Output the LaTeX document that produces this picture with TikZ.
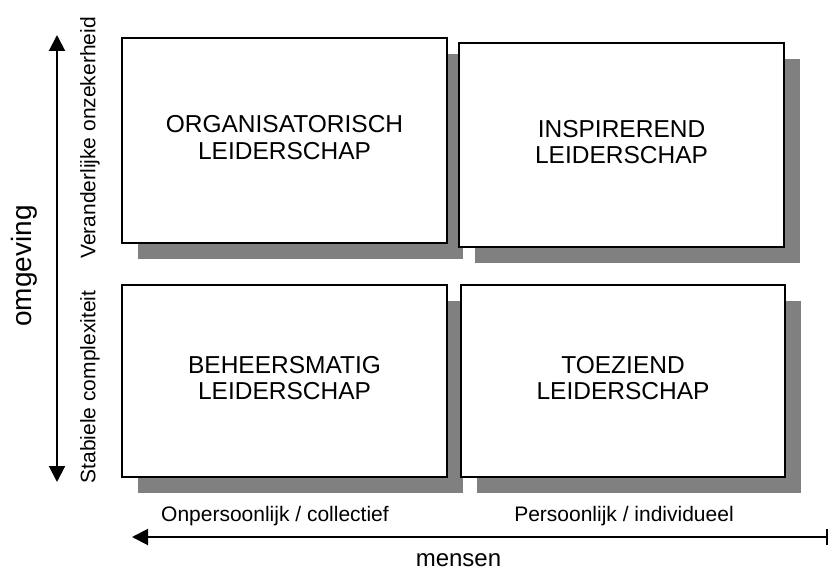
\documentclass[tikz,border=0pt]{standalone}
\usepackage{fontspec}
\setmainfont{Liberation Sans}
\usepackage{tikz}
\usetikzlibrary{arrows.meta,arrows}
\usetikzlibrary{positioning}
\usetikzlibrary{shadows}
\definecolor{shadegray}{RGB}{128,128,128}

\begin{document}
\begin{tikzpicture}[x=1pt,y=-1pt]
\tikzstyle{quad}=[rectangle,draw,line width=2pt,fill=white,outer sep=0,align=center,text depth=6pt,
  font=\fontsize{24.5}{26.7}\selectfont,
  drop shadow={shadow xshift=16pt,shadow yshift=-16pt,fill=shadegray,opacity=1}]
\tikzstyle{axis label}=[font=\fontsize{21}{25}\selectfont,inner sep=0]
\tikzstyle{side label}=[axis label,rotate=90]
\tikzset{
  axis/.style = {line width=2pt,draw=black},
  big label/.style = {inner sep=0},
  tri/.tip = {Triangle[length=16pt,width=16pt]}
}
\useasboundingbox (0,0) rectangle (829,572);

    \node[quad,minimum width=325pt,minimum height=205pt] (tl) at (284.5,140.5) {ORGANISATORISCH\\LEIDERSCHAP};
    \node[quad,minimum width=325pt,minimum height=204pt] (tr) [right=12pt of tl,yshift=-4.5pt] {INSPIREREND\\LEIDERSCHAP};
    \node[quad,minimum width=325pt,minimum height=192pt] (bl) [below=42pt of tl] {BEHEERSMATIG\\LEIDERSCHAP};
    \node[quad,minimum width=324pt,minimum height=192pt] (br) [right=14pt of bl] {TOEZIEND\\LEIDERSCHAP};

    %%%%%%%%%%%%%%%%%%%%%%%%%%
    \node[side label] (vo) at (90,138) {Veranderlijke onzekerheid};
    \node[side label] (sc) at (90,387) {Stabiele complexiteit};
    \node[big label,rotate=90,font=\fontsize{28}{32}\selectfont] (om) at (24,266) {omgeving};
    \node[axis label,anchor=base] (oc) at (275,521) {Onpersoonlijk / collectief};
    \node[axis label,anchor=base] (pi) at (624,521) {Persoonlijk / individueel};
    \node[big label,anchor=base,font=\fontsize{24}{29}\selectfont] (me) at (458.5,566) {mensen};

    \coordinate (vtop) at (57,35);
    \coordinate (vbot) at (57,482);
    \coordinate (hleft) at (132,537);
    \coordinate (hright) at (828,537);
    \path
        (vtop)   edge[axis,tri-tri] (vbot)
        (hright) edge[axis,{Bar[width=16pt,line width=2pt]}-tri] (hleft)
;
\end{tikzpicture}
\end{document}
